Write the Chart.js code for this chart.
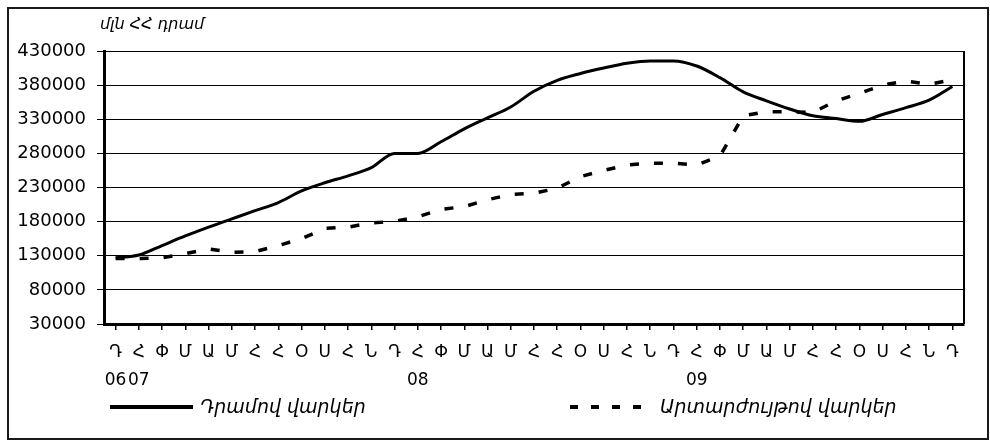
<!DOCTYPE html>
<html>
<head>
<meta charset="utf-8">
<script src="https://cdn.jsdelivr.net/npm/chart.js@4.4.1/dist/chart.umd.min.js"></script>
<style>
  html, body { margin: 0; padding: 0; background: #fff; }
  #wrap { position: relative; width: 990px; height: 441px; overflow: hidden; }
  #frame { position: absolute; left: 7px; top: 7px; width: 978px; height: 429px; border: 2px solid #1a1a1a; }
  #loansChart { position: absolute; left: 0; top: 0; }
</style>
</head>
<body>
<div id="wrap">
  <div id="frame"></div>
  <canvas id="loansChart" width="990" height="441"></canvas>
</div>
<script>
// months Dec 2006 .. Dec 2009 (Armenian initials)
const monthLetters = [
    'Դ', 'Հ', 'Փ', 'Մ', 'Ա', 'Մ', 'Հ', 'Հ', 'Օ', 'Ս', 'Հ', 'Ն',
    'Դ', 'Հ', 'Փ', 'Մ', 'Ա', 'Մ', 'Հ', 'Հ', 'Օ', 'Ս', 'Հ', 'Ն',
    'Դ', 'Հ', 'Փ', 'Մ', 'Ա', 'Մ', 'Հ', 'Հ', 'Օ', 'Ս', 'Հ', 'Ն',
    'Դ'
];
// second label row (year marks)
const yearLabels = [
    '06', '07', '', '', '', '', '', '', '', '', '', '',
    '', '08', '', '', '', '', '', '', '', '', '', '',
    '', '09', '', '', '', '', '', '', '', '', '', '',
    ''
];

// million AMD
const dramLoans = [
    127000, 131000, 145000, 159000, 172000, 184000, 196000, 208000, 225000, 237000, 247000, 259000,
    280000, 280000, 297000, 316000, 332000, 348000, 371000, 387000, 397000, 405000, 412000, 415500,
    415500, 408000, 391000, 370000, 357000, 345000, 335000, 331000, 327000, 337000, 347000, 358000,
    378000
];
const fxLoans = [
    126000, 126000, 127000, 133000, 140000, 135000, 136000, 145000, 155000, 170000, 172000, 178000,
    180500, 187000, 198000, 202000, 212000, 220000, 221500, 229000, 246000, 255000, 263000, 265500,
    265500, 263000, 276000, 335000, 341000, 341000, 340000, 357000, 368000, 380000, 386000, 381000,
    388000
];

const yTicks = [30000, 80000, 130000, 180000, 230000, 280000, 330000, 380000, 430000];
const unitTitle = 'մլն ՀՀ դրամ';
const seriesNames = ['Դրամով վարկեր', 'Արտարժույթով վարկեր'];

const FONT = '"DejaVu Sans", "Liberation Sans", sans-serif';

// legend row + unit caption, drawn straight on the canvas
const captionPlugin = {
    id: 'captionPlugin',
    beforeDatasetsDraw(chart) {
        const { ctx, chartArea } = chart;
        // right edge of the plot box
        ctx.save();
        ctx.strokeStyle = '#000';
        ctx.lineWidth = 2;
        ctx.beginPath();
        ctx.moveTo(chartArea.right, chartArea.top);
        ctx.lineTo(chartArea.right, chartArea.bottom);
        ctx.stroke();
        ctx.restore();
    },
    afterDraw(chart) {
        const ctx = chart.ctx;
        ctx.save();
        ctx.fillStyle = '#000';
        ctx.textBaseline = 'middle';
        ctx.font = 'italic 16px ' + FONT;
        ctx.fillText(unitTitle, 100, 25);

        const legendX = [110, 570];
        const y = 407;
        chart.data.datasets.forEach((ds, i) => {
            const x0 = legendX[i];
            ctx.strokeStyle = ds.borderColor;
            ctx.lineWidth = 4;
            ctx.lineCap = 'butt';
            ctx.setLineDash(ds.borderDash ? [8, 13] : []);
            ctx.beginPath();
            ctx.moveTo(x0, y);
            ctx.lineTo(x0 + 83, y);
            ctx.stroke();
            ctx.setLineDash([]);
            ctx.font = 'italic 19px ' + FONT;
            ctx.fillText(ds.label, x0 + 90, y + 1);
        });
        ctx.restore();
    }
};

const labels = monthLetters.map((m, i) => yearLabels[i] ? [m, yearLabels[i]] : m);

new Chart(document.getElementById('loansChart'), {
    type: 'line',
    data: {
        labels: labels,
        datasets: [
            {
                label: seriesNames[0],
                data: dramLoans,
                borderColor: '#000',
                borderWidth: 3,
                cubicInterpolationMode: 'monotone',
                pointRadius: 0,
                fill: false
            },
            {
                label: seriesNames[1],
                data: fxLoans,
                borderColor: '#000',
                borderWidth: 3.5,
                borderDash: [9, 15],
                borderCapStyle: 'butt',
                tension: 0,
                pointRadius: 0,
                fill: false
            }
        ]
    },
    options: {
        responsive: false,
        animation: false,
        devicePixelRatio: 1,
        layout: { padding: { left: 8, top: 51, right: 26, bottom: 47 } },
        plugins: {
            legend: { display: false },
            tooltip: { enabled: false }
        },
        scales: {
            x: {
                offset: true,
                afterFit: s => { s.height = 70; },
                grid: {
                    drawOnChartArea: false,
                    drawTicks: true,
                    tickLength: 6,
                    color: '#000',
                    lineWidth: 1.5
                },
                border: { display: true, color: '#000', width: 3 },
                ticks: {
                    autoSkip: false,
                    maxRotation: 0,
                    padding: 9,
                    color: '#000',
                    font: { family: FONT, size: 17, lineHeight: 1.65 }
                }
            },
            y: {
                min: 30000,
                max: 430000,
                afterFit: s => { s.width = 96; },
                afterBuildTicks: s => { s.ticks = yTicks.map(v => ({ value: v })); },
                grid: {
                    color: '#000',
                    lineWidth: 1,
                    drawTicks: true,
                    tickLength: 7
                },
                border: { display: true, color: '#000', width: 3 },
                ticks: {
                    padding: 11,
                    color: '#000',
                    font: { family: FONT, size: 18 },
                    callback: v => String(v)
                }
            }
        }
    },
    plugins: [captionPlugin]
});
</script>
</body>
</html>
